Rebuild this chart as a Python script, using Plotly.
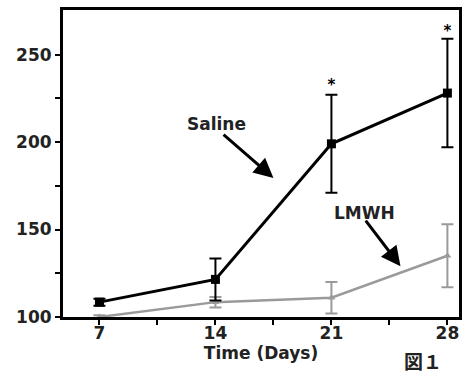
import plotly.graph_objects as go

days = [7, 14, 21, 28]
day_labels = ["7", "14", "21", "28"]
saline = [108.5, 121.5, 199, 228]
saline_err = [2, 12, 28, 31]
lmwh = [100, 108.5, 111, 135]
lmwh_err = [1, 3, 9, 18]
star_days = [21, 28]
star_y = [232, 263]
y_ticks = [100, 150, 200, 250]

FONT = "DejaVu Sans"

fig = go.Figure()
fig.add_trace(go.Scatter(
    x=days, y=lmwh, mode="lines+markers",
    line=dict(color="#9a9a9a", width=2.5),
    marker=dict(symbol="triangle-up", size=7, color="#9a9a9a"),
    error_y=dict(type="data", array=lmwh_err, color="#9a9a9a", thickness=2, width=6),
    showlegend=False, cliponaxis=False))
fig.add_trace(go.Scatter(
    x=days, y=saline, mode="lines+markers",
    line=dict(color="black", width=3),
    marker=dict(symbol="square", size=9, color="black"),
    error_y=dict(type="data", array=saline_err, color="black", thickness=2, width=6),
    showlegend=False, cliponaxis=False))
fig.add_trace(go.Scatter(
    x=star_days, y=star_y, mode="text", text=["<b>*</b>", "<b>*</b>"],
    textfont=dict(family=FONT, size=15, color="black"),
    showlegend=False, cliponaxis=False))

font_b = dict(family=FONT, size=17, color="#222")
ann_font = dict(family=FONT, size=17, color="#222")

fig.add_annotation(x=14.08, y=210.2, xref="x", yref="y", text="<b>Saline</b>", showarrow=False, font=ann_font)
fig.add_annotation(x=17.5, y=179.5, ax=14.4, ay=205, xref="x", yref="y", axref="x", ayref="y",
                   showarrow=True, arrowhead=2, arrowsize=1.3, arrowwidth=3, arrowcolor="black", text="")
fig.add_annotation(x=23.0, y=159.7, xref="x", yref="y", text="<b>LMWH</b>", showarrow=False, font=ann_font)
fig.add_annotation(x=25.17, y=129, ax=23.0, ay=156, xref="x", yref="y", axref="x", ayref="y",
                   showarrow=True, arrowhead=2, arrowsize=1.3, arrowwidth=3, arrowcolor="black", text="")
fig.add_annotation(x=(426 - 63) / 399, y=-(361 - 317) / 309, xref="paper", yref="paper",
                   text="<b>図１</b>", showarrow=False, xanchor="center", yanchor="middle",
                   font=dict(family="Noto Sans CJK JP", size=19, color="#222"))

fig.update_layout(
    width=469, height=376,
    margin=dict(l=63, r=7, t=8, b=59),
    plot_bgcolor="white", paper_bgcolor="white",
    xaxis=dict(range=[4.8, 28.7], tickvals=days, ticktext=[f"<b>{d}</b>" for d in day_labels],
               showgrid=False, zeroline=False, showline=True, linecolor="black", linewidth=3,
               mirror=True, ticks="outside", ticklen=5, tickwidth=2, tickcolor="black",
               tickfont=font_b, ticklabelstandoff=-6,
               minor=dict(tickvals=[10.5, 17.5, 24.5], ticks="outside", ticklen=5, tickwidth=2,
                          tickcolor="black"),
               title=dict(text="<b>Time (Days)</b>", font=font_b, standoff=0)),
    yaxis=dict(range=[100, 275.5], tickvals=y_ticks, ticktext=[f"<b>{v}</b>" for v in y_ticks],
               showgrid=False, zeroline=False, showline=True, linecolor="black", linewidth=3,
               mirror=True, ticks="outside", ticklen=5, tickwidth=2, tickcolor="black",
               tickfont=font_b,
               minor=dict(tickvals=[125, 175, 225], ticks="outside", ticklen=5, tickwidth=2,
                          tickcolor="black")),
)

fig.write_html("out.html", config={"displayModeBar": False},
               post_script="document.body.style.margin='0';document.body.style.overflow='hidden';")
